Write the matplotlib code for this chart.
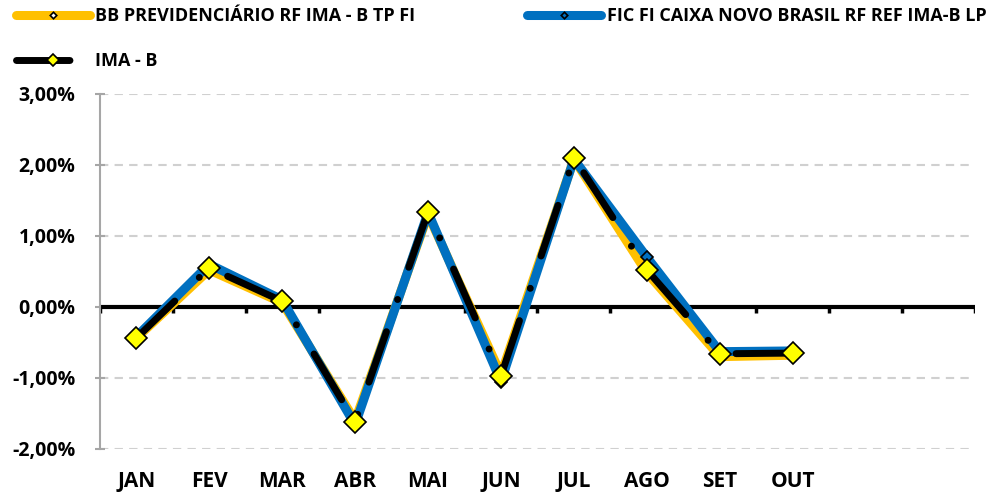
import matplotlib
matplotlib.use("Agg")
import matplotlib.pyplot as plt
from matplotlib.ticker import FuncFormatter

plt.rcParams["font.family"] = ["Open Sans", "DejaVu Sans"]
plt.rcParams["font.weight"] = "bold"

months = ["JAN", "FEV", "MAR", "ABR", "MAI", "JUN", "JUL", "AGO", "SET", "OUT", "", ""]
bb_prev = [-0.44, 0.52, 0.06, -1.60, 1.30, -0.95, 2.08, 0.48, -0.70, -0.68]
fic_caixa = [-0.42, 0.60, 0.10, -1.66, 1.33, -1.05, 2.08, 0.70, -0.63, -0.62]
ima_b = [-0.44, 0.55, 0.08, -1.62, 1.34, -0.97, 2.10, 0.52, -0.66, -0.65]
y_ticks = [-2, -1, 0, 1, 2, 3]

fig = plt.figure(figsize=(9.88, 4.92), dpi=100)
ax = fig.add_axes([0.101, 0.0874, 0.886, 0.722])

x = range(len(bb_prev))
l1, = ax.plot(x, bb_prev, color="#FFC000", lw=6.5, solid_capstyle="round",
              marker="D", ms=6, mfc="white", mec="black", mew=1.2, zorder=3,
              label="BB PREVIDENCIÁRIO RF IMA - B TP FI")
l2, = ax.plot(x, fic_caixa, color="#0070C0", lw=6.5, solid_capstyle="round",
              marker="D", ms=6, mfc="#0070C0", mec="black", mew=1.2, zorder=4,
              label="FIC FI CAIXA NOVO BRASIL RF REF IMA-B LP")
l3, = ax.plot(x, ima_b, color="black", lw=5, dash_capstyle="round",
              linestyle=(0, (7.7, 4.9, 0.01, 4.9)), zorder=5,
              marker="D", ms=11, mfc="#FFFF00", mec="black", mew=1.2,
              label="IMA - B")

ax.set_xlim(-0.5, len(months) - 0.5)
ax.set_ylim(-2, 3)
ax.set_yticks(y_ticks)
ax.yaxis.set_major_formatter(FuncFormatter(lambda v, p: f"{v:.2f}%".replace(".", ",")))
ax.set_xticks(range(len(months)), months)
ax.tick_params(axis="x", length=0, pad=16, labelsize=15)
ax.tick_params(axis="y", direction="inout", length=7, width=1.5, color="#A6A6A6",
               pad=14, labelsize=14)

for s in ["top", "right", "bottom"]:
    ax.spines[s].set_visible(False)
ax.spines["left"].set_color("#A6A6A6")
ax.spines["left"].set_linewidth(1.5)

for v in y_ticks:
    if v != 0:
        ax.axhline(v, color="#D0D0D0", lw=1.5, ls=(0, (4, 3)), zorder=1)
ax.axhline(0, color="black", lw=3, zorder=2)
ax.vlines([i - 0.5 for i in range(len(months) + 1)], -0.09, 0, color="black", lw=2.5, zorder=2)

fig.legend(handles=[l1, l3, l2], loc="upper left", bbox_to_anchor=(0.016, 0.985),
           ncol=2, frameon=False, fontsize=13, markerscale=0.55,
           borderpad=0, borderaxespad=0,
           handlelength=4.1, handletextpad=0.3, columnspacing=6.2, labelspacing=1.5)

fig.savefig("out.png", dpi=100)
